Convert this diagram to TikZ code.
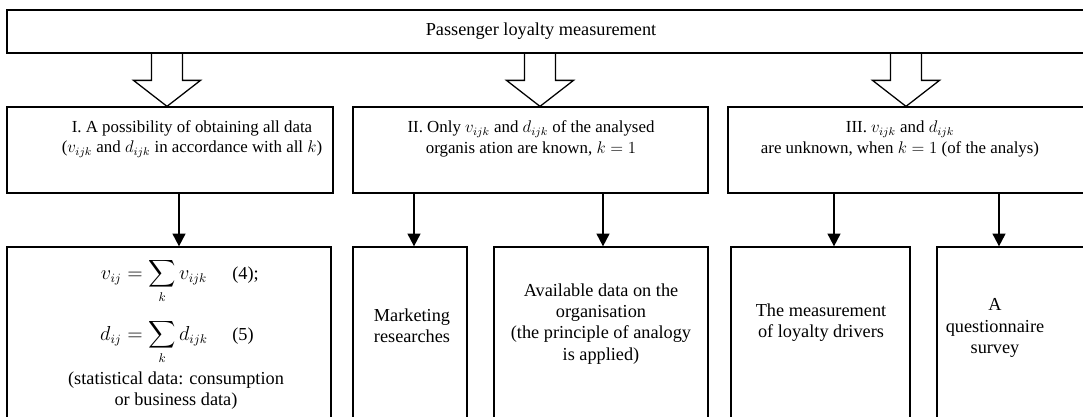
\documentclass[tikz,border=0pt]{standalone}
\usepackage{amssymb,amsmath}
\usepackage{fontspec}
\setmainfont{Liberation Serif}
\usepackage{tikz}
\usetikzlibrary{arrows.meta,calc,fit}
\tikzset{
  box/.style={draw, line width=0.9pt, inner sep=0pt},
  txt/.style={align=center, inner sep=0pt, font=\fontsize{13}{15}\selectfont},
  headtxt/.style={txt, font=\fontsize{12}{14.5}\selectfont},
  eqtxt/.style={inner sep=0pt, font=\fontsize{13.5}{16}\selectfont},
  downarrow/.style={line width=1.4pt, -{Triangle[length=9pt,width=9pt]}},
  fatarrow/.style={line width=0.9pt, line join=miter},
}
% hollow arrow from #1 down to #2 at x = #3
\newcommand{\hollowarrow}[3]{
  \draw[fatarrow] ($(#1.south -| #3,0)+(-15.5,0)$) -- ($(#2.north -| #3,0)+(-15.5,-26)$) -- ++(-18,0)
    -- (#2.north -| #3,0) -- ++(33.5,-26) -- ++(-18,0) -- ($(#1.south -| #3,0)+(15.5,0)$);
}

\begin{document}
\begin{tikzpicture}[x=0.025cm,y=-0.025cm]
\useasboundingbox (0,0) rectangle (1083,416);
\clip (0,0) rectangle (1083,416);

% boxes
\node[box, fit={(7,10) (1100,53)}] (top) {};
\node[box, fit={(7,107) (333,193)}] (sI) {};
\node[box, fit={(353,107) (708,193)}] (sII) {};
\node[box, fit={(728,107) (1100,193)}] (sIII) {};

\node[box, fit={(7,247) (331,440)}] (bFormula) {};
\node[box, fit={(353,247) (467,440)}] (bMarket) {};
\node[box, fit={(494,247) (708,440)}] (bAvail) {};
\node[box, fit={(731,247) (910,440)}] (bMeasure) {};
\node[box, fit={(937,247) (1100,440)}] (bQuest) {};

% texts
\node[txt] (tTop) at (541,31) {Passenger loyalty measurement};
\node[headtxt] (tI) at (192,139) {I. A possibility of obtaining all data\\($v_{ijk}$ and $d_{ijk}$ in accordance with all $k$)};
\node[headtxt] (tII) at (531,139) {II. Only $v_{ijk}$ and $d_{ijk}$ of the analysed\\organis ation are known, $k=1$};
\node[headtxt] (tIII) at (900,139) {III. $v_{ijk}$ and $d_{ijk}$\\are unknown, when $k=1$ (of the analys)};

\node[eqtxt, anchor=base] (eqv) at (154,279) {$\displaystyle v_{ij}=\sum_k v_{ijk}$};
\node[txt, anchor=base west] (nv) at (232,279) {(4);};
\node[eqtxt, anchor=base] (eqd) at (154,340) {$\displaystyle d_{ij}=\sum_k d_{ijk}$};
\node[txt, anchor=base west] (nd) at (232,340) {(5)};
\node[txt] (tStat) at (176,391) {(statistical data: consumption\\or business data)};

\node[txt] (tMarket) at (412,326) {Marketing\\researches};
\node[txt] (tAvail) at (601,324) {Available data on the\\organisation\\(the principle of analogy\\is applied)};
\node[txt] (tMeasure) at (821,323) {The measurement\\of loyalty drivers};
\node[txt] (tQuest) at (995,328) {A\\questionnaire\\survey};

% hollow arrows
\hollowarrow{top}{sI}{167}
\hollowarrow{top}{sII}{540}
\hollowarrow{top}{sIII}{906}

% black arrows
\draw[downarrow] (sI.south -| 179,0) -- (bFormula.north -| 179,0);
\draw[downarrow] (sII.south -| 414,0) -- (bMarket.north -| 414,0);
\draw[downarrow] (sII.south -| 603,0) -- (bAvail.north -| 603,0);
\draw[downarrow] (sIII.south -| 834,0) -- (bMeasure.north -| 834,0);
\draw[downarrow] (sIII.south -| 999,0) -- (bQuest.north -| 999,0);
\end{tikzpicture}
\end{document}
